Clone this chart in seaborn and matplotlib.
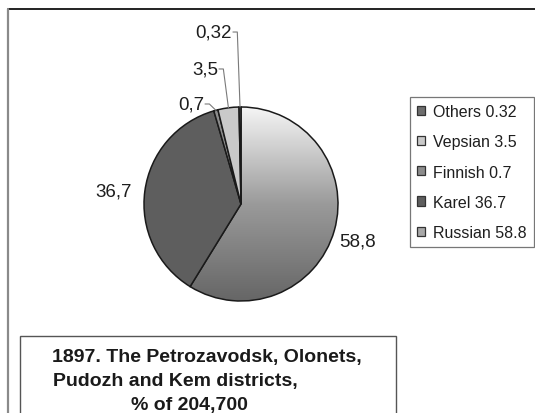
"""1897 ethnic composition pie, Petrozavodsk / Olonets / Pudozh / Kem districts"""

import numpy as np
import matplotlib
matplotlib.use("Agg")
import matplotlib.pyplot as plt
import matplotlib.lines as mlines
import matplotlib.patches as mpatches
import seaborn as sns

# data
groups = ["Russian", "Karel", "Finnish", "Vepsian", "Others"]
shares = [58.8, 36.7, 0.7, 3.5, 0.32]
slice_labels = ["58,8", "36,7", "0,7", "3,5", "0,32"]
legend_labels = ["Russian 58.8", "Karel 36.7", "Finnish 0.7", "Vepsian 3.5", "Others 0.32"]
title_lines = ["1897. The Petrozavodsk, Olonets,", "Pudozh and Kem districts,", "% of 204,700"]

slice_colours = ["#a4a4a4", "#5e5e5e", "#8c8c8c", "#c9c9c9", "#6e6e6e"]

sns.set_theme(style="white")
plt.rcParams["font.family"] = ["Liberation Sans", "DejaVu Sans"]

W, H = 535, 414
R = 97.0      # pie radius in px
CX, CY = 241, 205  # pie centre in px (from top)

fig = plt.figure(figsize=(W / 100, H / 100), dpi=100)
ax = fig.add_axes([0, 0, 1, 1])

wedges, _ = ax.pie(shares, colors=slice_colours, startangle=90, counterclock=False,
                   wedgeprops=dict(edgecolor="#1a1a1a", linewidth=1.1))

# gradient fill for the Russian slice
wedges[0].set_facecolor("none")
grad_cmap = sns.blend_palette(["#666666", "#9a9a9a", "#f5f5f5"], as_cmap=True)
grad = np.linspace(0, 1, 256).reshape(-1, 1)
img = ax.imshow(grad, extent=(-1, 1, -1, 1), origin="lower", cmap=grad_cmap,
                zorder=0.5, interpolation="bilinear")
img.set_clip_path(wedges[0])

# labels for the two big slices
big_dist = {0: 1.25, 1: 1.33}
for i, d in big_dist.items():
    w = wedges[i]
    th = np.deg2rad((w.theta1 + w.theta2) / 2)
    ax.text(d * np.cos(th), d * np.sin(th) - 0.04, slice_labels[i], ha="center", va="center",
            fontsize=13.5, color="#1e1e1e")

# small slices: label with a leader line up to the rim
small_pos = {2: (-0.381, 1.031), 3: (-0.237, 1.392), 4: (-0.093, 1.773)}
for i, (tx, ty) in small_pos.items():
    w = wedges[i]
    th = np.deg2rad((w.theta1 + w.theta2) / 2)
    ax.text(tx, ty, slice_labels[i], ha="right", va="center", fontsize=13.5, color="#1e1e1e")
    ax.plot([tx + 0.01, tx + 0.055, np.cos(th)], [ty, ty, np.sin(th)],
            color="#7a7a7a", lw=0.8, zorder=3)

ax.set_xlim(-CX / R, (W - CX) / R)
ax.set_ylim(-(H - CY) / R, CY / R)
ax.set_aspect("auto")
ax.axis("off")

# outer frame (top and left edges only visible)
fig.add_artist(mlines.Line2D([8 / W, 1], [1 - 10 / H, 1 - 10 / H], transform=fig.transFigure,
                             color="#111111", lw=1.3))
fig.add_artist(mlines.Line2D([8 / W, 8 / W], [0, 1 - 10 / H], transform=fig.transFigure,
                             color="#8a8a8a", lw=1.6))

# legend, reversed order like the original
handle_colours = ["#a8a8a8"] + slice_colours[1:]
handles = [mpatches.Patch(facecolor=c, edgecolor="#333333", linewidth=0.9) for c in handle_colours]
leg = fig.legend(handles[::-1], legend_labels[::-1], loc="upper left",
                 bbox_to_anchor=(410 / W, 1 - 98 / H), frameon=True, fancybox=False,
                 edgecolor="#555555", fontsize=11.5, handlelength=0.5, handleheight=0.5,
                 handletextpad=0.5, labelspacing=0.95, borderpad=0.45, borderaxespad=0)
leg.get_frame().set_linewidth(0.9)
for t in leg.get_texts():
    t.set_color("#1e1e1e")

# title box at the bottom
fig.add_artist(mpatches.Rectangle((20 / W, -0.01), (396 - 20) / W, (H - 337) / H + 0.01,
                                  transform=fig.transFigure, facecolor="white",
                                  edgecolor="#555555", lw=1.0))
fig.text(206.5 / W, 1 - 358 / H, title_lines[0], ha="center", va="center",
         fontsize=14, fontweight="bold", color="#1a1a1a")
fig.text(53 / W, 1 - 382 / H, title_lines[1], ha="left", va="center",
         fontsize=14, fontweight="bold", color="#1a1a1a")
fig.text(189 / W, 1 - 406 / H, title_lines[2], ha="center", va="center",
         fontsize=14, fontweight="bold", color="#1a1a1a")

fig.savefig("out.png", dpi=100)
plt.close(fig)
